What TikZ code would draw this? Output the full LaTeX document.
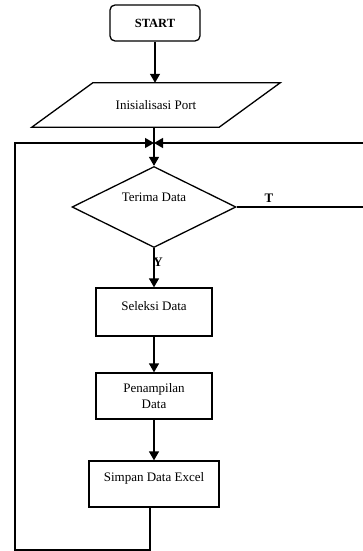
\documentclass[tikz,border=0pt]{standalone}
\usepackage{fontspec}
\setmainfont{Liberation Serif}
\usetikzlibrary{arrows.meta,shapes.geometric}
\begin{document}
\begin{tikzpicture}[x=1pt,y=-1pt,
  every node/.style={font=\fontsize{13}{15.5}\selectfont},
  shapebox/.style={draw, line width=1.3pt, inner sep=0pt},
  procbox/.style={shapebox, rectangle},
  flow/.style={line width=1.3pt, -{Triangle[length=9pt,width=10pt]}},
  plain/.style={line width=1.3pt},
  lbl/.style={font=\fontsize{13}{15.5}\selectfont\bfseries, inner sep=0pt}
]
\useasboundingbox (0,0) rectangle (362,551);
\node[shapebox, rectangle, rounded corners=5pt, minimum width=90pt, minimum height=36pt,
  font=\fontsize{12.5}{15}\selectfont\bfseries] (start) at (155,23) {START};
\node[rectangle, inner sep=0pt, minimum width=187pt, minimum height=44pt] (para) at (156,105) {Inisialisasi Port};
\draw[plain, line join=miter] ([xshift=-30.5pt]para.south west) -- ([xshift=30.5pt]para.north west)
  -- ([xshift=30.5pt]para.north east) -- ([xshift=-30.5pt]para.south east) -- cycle;
\coordinate (merge) at (154,143);
\node[shapebox, diamond, minimum width=164pt, minimum height=81pt,
  label={[yshift=10pt]center:Terima Data}] (dec) at (154,207) {};
\node[procbox, minimum width=116pt, minimum height=48pt,
  label={[yshift=6pt]center:Seleksi Data}] (sel) at (154,312) {};
\node[procbox, minimum width=116pt, minimum height=46pt, align=center] (tam) at (154,396) {Penampilan\\Data};
\node[procbox, minimum width=130pt, minimum height=46pt,
  label={[yshift=6pt]center:Simpan Data Excel}] (simp) at (154,484) {};
\coordinate (bl) at (15,550);
\coordinate (br) at (150,550);
\coordinate (tl) at (15,143);
\coordinate (er) at (364,207);
\coordinate (tr) at (364,143);

\draw[flow] (start.south) -- (para.north -| start.south);
\draw[plain] (para.south -| merge) -- (merge);
\draw[flow] (merge) -- (dec.north);
\draw[flow] (dec.south) -- (sel.north);
\draw[flow] (sel.south) -- (tam.north);
\draw[flow] (tam.south) -- (simp.north);
\draw[flow] (simp.south -| br) -- (br) -- (bl) -- (tl) -- (merge);
\draw[flow] (dec.east) -- (er) -- (tr) -- (merge);
\node[lbl] (tlab) at (269,198) {T};
\node[lbl] (ylab) at (158,262) {Y};
\end{tikzpicture}
\end{document}
